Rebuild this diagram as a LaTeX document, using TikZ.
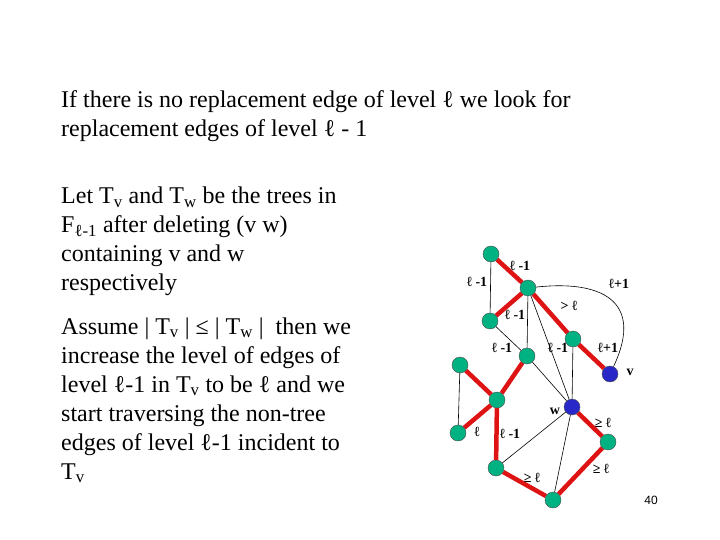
\documentclass[tikz,border=0pt]{standalone}
\usepackage{fontspec}
\setmainfont{Liberation Serif}
\setsansfont{Liberation Sans}
\usetikzlibrary{backgrounds}
\definecolor{nodegreen}{RGB}{0,178,130}
\definecolor{nodeblue}{RGB}{40,40,200}
\definecolor{treered}{RGB}{222,20,20}
\tikzset{
  vert/.style={circle,draw=black!70,fill=nodegreen,minimum size=16pt,inner sep=0pt},
  vblue/.style={vert,fill=nodeblue},
  tree/.style={line width=4.5pt,treered},
  nontree/.style={line width=0.6pt},
  lvl/.style={font=\fontsize{14}{14}\selectfont\bfseries,inner sep=0pt},
  para/.style={anchor=base west,inner sep=0pt,font=\fontsize{24}{29}\selectfont},
}
\newcommand{\paratext}[1]{\parbox[t]{600pt}{\raggedright #1}}
\begin{document}
\begin{tikzpicture}[x=1pt,y=-1pt]
  \useasboundingbox (0,0) rectangle (720,540);

  % text
  \node[para] (intro) at (61,108) {\paratext{If there is no replacement edge of level ℓ we look for\\
    replacement edges of level ℓ - 1}};
  \node[para] (trees) at (61,204) {\paratext{Let T\textsubscript{v} and T\textsubscript{w} be the trees in\\
    F\textsubscript{ℓ-1} after deleting (v w)\\
    containing v and w\\
    respectively}};
  \node[para] (assume) at (61,334) {\paratext{Assume | T\textsubscript{v} | ≤ | T\textsubscript{w} |\ \ then we\\
    increase the level of edges of\\
    level ℓ-1 in T\textsubscript{v} to be ℓ and we\\
    start traversing the non-tree\\
    edges of level ℓ-1 incident to\\
    T\textsubscript{v}}};
  \node[font=\sffamily\fontsize{12}{12}\selectfont] (page) at (651,500) {40};

  % vertices
  \node[vert] (a) at (491,254) {};
  \node[vert] (b) at (528,288) {};
  \node[vert] (c) at (490,321) {};
  \node[vert] (d) at (573,339) {};
  \node[vert] (e) at (527,356) {};
  \node[vblue] (v) at (610,374) {};
  \node[vert] (f) at (460,365) {};
  \node[vert] (g) at (497,400) {};
  \node[vblue] (w) at (572,407) {};
  \node[vert] (h) at (458,433) {};
  \node[vert] (i) at (608,442) {};
  \node[vert] (j) at (496,468) {};
  \node[vert] (k) at (553,500) {};

  \begin{pgfonlayer}{background}
    \draw[nontree] (a) -- (c) (b) -- (e) (b) -- (w) (c) -- (e) (e) -- (w)
      (d) -- (w) (f) -- (h) (j) -- (w) (k) -- (w);
    \draw[nontree] (b) .. controls (600,280) and (645,300) .. (v);
    \draw[tree] (a) -- (b) -- (c) (b) -- (d) -- (v) (e) -- (g) -- (f)
      (g) -- (h) (g) -- (j) -- (k) -- (i) -- (w);
  \end{pgfonlayer}

  % edge levels
  \node[lvl] (l1) at (520,266) {ℓ -1};
  \node[lvl] (l2) at (477,282) {ℓ -1};
  \node[lvl] (l3) at (619,284) {ℓ+1};
  \node[lvl] (l4) at (569,306) {> ℓ};
  \node[lvl] (l5) at (515,315) {ℓ -1};
  \node[lvl] (l6) at (502,348) {ℓ -1};
  \node[lvl] (l7) at (558,348) {ℓ -1};
  \node[lvl] (l8) at (608,348) {ℓ+1};
  \node[lvl] (lv) at (630,372) {v};
  \node[lvl] (lw) at (555,411) {w};
  \node[lvl] (l9) at (603,423) {≥ ℓ};
  \node[lvl] (l10) at (477,432) {ℓ};
  \node[lvl] (l11) at (510,434) {ℓ -1};
  \node[lvl] (l12) at (601,469) {≥ ℓ};
  \node[lvl] (l13) at (532,478) {≥ ℓ};
\end{tikzpicture}
\end{document}
